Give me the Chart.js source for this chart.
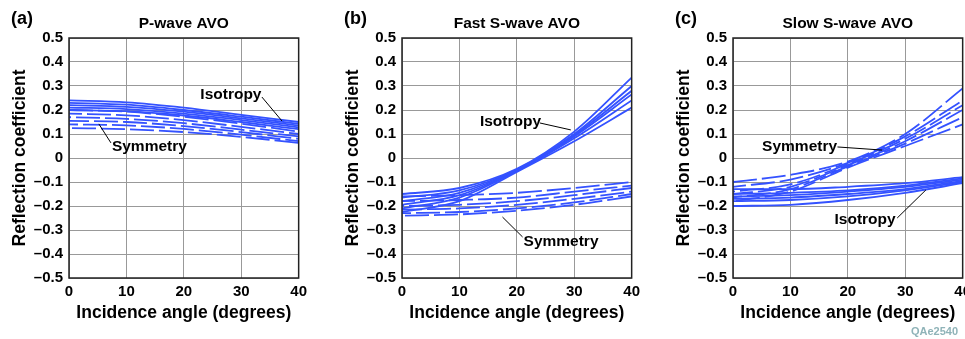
<!DOCTYPE html>
<html lang="en">
<head>
<meta charset="UTF-8">
<title>P-wave and S-wave AVO</title>
<script src="https://cdn.jsdelivr.net/npm/chart.js"></script>
<style>
  html, body { margin: 0; padding: 0; background: #fff; overflow: hidden; }
  body { width: 965px; height: 339px; position: relative; }
  .panel { position: absolute; top: 0; width: 312px; height: 339px; }
  #tag { position: absolute; left: 911px; top: 325px; font: bold 11px "Liberation Sans", Arial, sans-serif; color: #8fb3b8; }
</style>
</head>
<body>
<div class="panel" style="left:0px"><canvas id="chartA" width="312" height="339"></canvas></div>
<div class="panel" style="left:333px"><canvas id="chartB" width="312" height="339"></canvas></div>
<div class="panel" style="left:664px"><canvas id="chartC" width="312" height="339"></canvas></div>
<div id="tag">QAe2540</div>
<script>
// incidence angles (degrees) where each curve is read
const angles = [0, 10, 20, 30, 40];
const xTicks = [0, 10, 20, 30, 40];
const yTicks = [-0.5, -0.4, -0.3, -0.2, -0.1, 0, 0.1, 0.2, 0.3, 0.4, 0.5];

// (a) P-wave
const pIsotropy = [
  [0.24, 0.232, 0.21, 0.18, 0.15],
  [0.23, 0.222, 0.2, 0.172, 0.142],
  [0.22, 0.213, 0.193, 0.165, 0.135],
  [0.21, 0.204, 0.185, 0.158, 0.128],
  [0.2, 0.195, 0.177, 0.15, 0.12]
];
const pSymmetry = [
  [0.2, 0.193, 0.172, 0.143, 0.11],
  [0.185, 0.178, 0.158, 0.13, 0.1],
  [0.17, 0.163, 0.145, 0.118, 0.09],
  [0.155, 0.15, 0.133, 0.108, 0.08],
  [0.14, 0.136, 0.121, 0.097, 0.07],
  [0.125, 0.12, 0.108, 0.088, 0.063]
];

// (b) fast S-wave
const fastIsotropy = [
  [-0.15, -0.125, -0.045, 0.11, 0.335],
  [-0.165, -0.135, -0.048, 0.1, 0.3],
  [-0.18, -0.145, -0.05, 0.095, 0.28],
  [-0.195, -0.155, -0.052, 0.09, 0.265],
  [-0.21, -0.165, -0.055, 0.082, 0.24],
  [-0.225, -0.18, -0.058, 0.07, 0.21]
];
const fastSymmetry = [
  [-0.16, -0.155, -0.145, -0.125, -0.1],
  [-0.18, -0.175, -0.165, -0.14, -0.115],
  [-0.2, -0.195, -0.18, -0.155, -0.125],
  [-0.215, -0.21, -0.195, -0.17, -0.14],
  [-0.23, -0.225, -0.21, -0.185, -0.15],
  [-0.24, -0.235, -0.22, -0.195, -0.16]
];

// (c) slow S-wave
const slowIsotropy = [
  [-0.13, -0.13, -0.12, -0.105, -0.08],
  [-0.15, -0.145, -0.135, -0.115, -0.085],
  [-0.16, -0.155, -0.14, -0.12, -0.09],
  [-0.17, -0.165, -0.15, -0.13, -0.095],
  [-0.18, -0.175, -0.16, -0.135, -0.1],
  [-0.2, -0.195, -0.175, -0.145, -0.105]
];
const slowSymmetry = [
  [-0.1, -0.07, -0.015, 0.1, 0.29],
  [-0.12, -0.09, -0.02, 0.09, 0.24],
  [-0.14, -0.11, -0.025, 0.08, 0.22],
  [-0.15, -0.12, -0.03, 0.07, 0.2],
  [-0.165, -0.13, -0.035, 0.06, 0.17],
  [-0.18, -0.14, -0.04, 0.05, 0.14]
];

const FONT = '"Liberation Sans", Arial, sans-serif';
const BLUE = 'rgb(52,82,255)';

function fmtY(v) {
  v = Math.round(v * 10) / 10;
  if (v === 0) return '0';
  return v < 0 ? '\u2013' + Math.abs(v).toFixed(1) : v.toFixed(1);
}

// frame, titles and labelled leader lines
const decor = {
  id: 'decor',
  afterDraw(chart, args, o) {
    const { ctx, chartArea: a, scales: { x, y } } = chart;
    ctx.save();
    ctx.strokeStyle = '#222';
    ctx.lineWidth = 1.5;
    ctx.strokeRect(a.left, a.top, a.right - a.left, a.bottom - a.top);
    ctx.fillStyle = '#000';
    const cx = (a.left + a.right) / 2;
    ctx.font = 'bold 18px ' + FONT;
    ctx.textAlign = 'left';
    ctx.textBaseline = 'alphabetic';
    ctx.fillText(o.letter, 11, 24);
    ctx.font = 'bold 15.5px ' + FONT;
    ctx.textAlign = 'center';
    ctx.fillText(o.title, cx, 28);
    ctx.font = 'bold 17.5px ' + FONT;
    ctx.textBaseline = 'middle';
    ctx.fillText('Incidence angle (degrees)', cx, 313);
    ctx.save();
    ctx.translate(20, (a.top + a.bottom) / 2);
    ctx.rotate(-Math.PI / 2);
    ctx.fillText('Reflection coefficient', 0, 0);
    ctx.restore();
    ctx.font = 'bold 15.5px ' + FONT;
    ctx.lineWidth = 1;
    ctx.strokeStyle = '#000';
    o.notes.forEach(n => {
      ctx.fillText(n.text, x.getPixelForValue(n.at[0]), y.getPixelForValue(n.at[1]));
      ctx.beginPath();
      ctx.moveTo(x.getPixelForValue(n.from[0]), y.getPixelForValue(n.from[1]));
      ctx.lineTo(x.getPixelForValue(n.to[0]), y.getPixelForValue(n.to[1]));
      ctx.stroke();
    });
    ctx.restore();
  }
};

function makeChart(id, letter, title, iso, sym, notes) {
  const toPts = row => row.map((v, i) => ({ x: angles[i], y: v }));
  const datasets = [];
  sym.forEach((row, i) => datasets.push({
    data: toPts(row), borderColor: BLUE, borderWidth: 1.8,
    borderDash: [24, 5], borderDashOffset: (i * 11) % 29,
    pointRadius: 0, cubicInterpolationMode: 'monotone', fill: false
  }));
  iso.forEach(row => datasets.push({
    data: toPts(row), borderColor: BLUE, borderWidth: 1.8,
    pointRadius: 0, cubicInterpolationMode: 'monotone', fill: false
  }));
  return new Chart(document.getElementById(id), {
    type: 'line',
    data: { datasets },
    plugins: [decor],
    options: {
      responsive: false,
      animation: false,
      events: [],
      layout: { padding: { top: 38, right: 12, bottom: 0, left: 0 } },
      plugins: {
        legend: { display: false },
        tooltip: { enabled: false },
        decor: { letter, title, notes }
      },
      scales: {
        x: {
          type: 'linear', min: 0, max: 40,
          afterBuildTicks: s => { s.ticks = xTicks.map(v => ({ value: v })); },
          afterFit: s => { s.height = 61; },
          ticks: { color: '#000', font: { family: FONT, size: 15, weight: 'bold' }, padding: 5, maxRotation: 0 },
          grid: { color: '#999', lineWidth: 1, drawTicks: false },
          border: { display: false }
        },
        y: {
          type: 'linear', min: -0.5, max: 0.5,
          afterBuildTicks: s => { s.ticks = yTicks.map(v => ({ value: v })); },
          afterFit: s => { s.width = 69; },
          ticks: { color: '#000', font: { family: FONT, size: 15, weight: 'bold' }, padding: 6, callback: fmtY },
          grid: { color: '#999', lineWidth: 1, drawTicks: false },
          border: { display: false }
        }
      }
    }
  });
}

makeChart('chartA', '(a)', 'P-wave AVO', pIsotropy, pSymmetry, [
  { text: 'Isotropy', at: [28.2, 0.262], from: [33.6, 0.254], to: [37.1, 0.154] },
  { text: 'Symmetry', at: [14.0, 0.046], from: [5.2, 0.142], to: [7.3, 0.063] }
]);
makeChart('chartB', '(b)', 'Fast S-wave AVO', fastIsotropy, fastSymmetry, [
  { text: 'Isotropy', at: [18.9, 0.15], from: [24.0, 0.146], to: [29.4, 0.117] },
  { text: 'Symmetry', at: [27.7, -0.35], from: [17.5, -0.246], to: [21.0, -0.329] }
]);
makeChart('chartC', '(c)', 'Slow S-wave AVO', slowIsotropy, slowSymmetry, [
  { text: 'Symmetry', at: [11.6, 0.048], from: [18.2, 0.046], to: [26.0, 0.033] },
  { text: 'Isotropy', at: [23.0, -0.256], from: [28.6, -0.25], to: [33.6, -0.133] }
]);
</script>
</body>
</html>
